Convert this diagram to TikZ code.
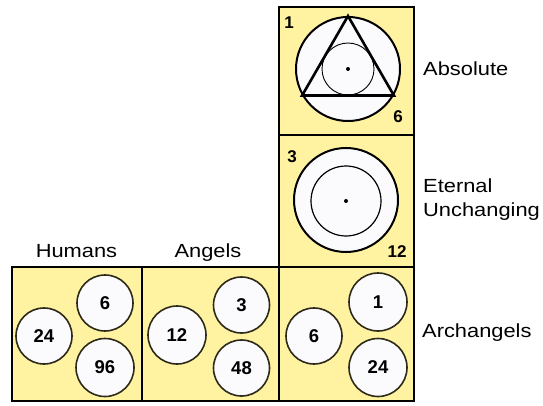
\documentclass[tikz,border=0pt]{standalone}
\usepackage{fontspec}
\setmainfont{Liberation Sans}
\usepackage{graphicx}
\definecolor{cellyel}{RGB}{255,242,160}
\definecolor{circfill}{RGB}{251,251,254}
\definecolor{circline}{RGB}{45,42,25}
\begin{document}
\begin{tikzpicture}[x=1pt,y=-1pt,
  cell/.style={rectangle,draw=black,line width=2.5pt,fill=cellyel,inner sep=0pt},
  numc/.style={circle,draw=circline,line width=1.6pt,fill=circfill,inner sep=0pt,
    font=\fontsize{18.5}{20}\selectfont\bfseries},
  corner/.style={inner sep=0pt,font=\fontsize{17}{19}\selectfont\bfseries},
  lab/.style={inner sep=0pt,font=\fontsize{19}{22}\selectfont}]
\useasboundingbox (0,0) rectangle (543,406);
% cells
\node[cell,minimum width=135pt,minimum height=128pt] (abs) at (346.5,71) {};
\node[cell,minimum width=135pt,minimum height=132pt] (ete) at (346.5,201) {};
\node[cell,minimum width=130pt,minimum height=134pt] (hum) at (77,334) {};
\node[cell,minimum width=137pt,minimum height=134pt] (ang) at (210.5,334) {};
\node[cell,minimum width=135pt,minimum height=134pt] (arc) at (346.5,334) {};
% absolute
\node[circle,draw=black,line width=2pt,fill=circfill,minimum size=104pt,inner sep=0pt] (absout) at (348,69) {};
\node[circle,draw=black,line width=0.9pt,minimum size=52pt,inner sep=0pt] (absin) at (348,69) {};
\draw[line width=2.6pt,line join=miter] (absout.90) -- (absout.210) -- (absout.330) -- cycle;
\fill (absout.center) circle (2pt);
\node[corner] (n1) at (289,23) {1};
\node[corner] (n6) at (398,117) {6};
% eternal
\node[circle,draw=black,line width=2pt,fill=circfill,minimum size=104pt,inner sep=0pt] (eteout) at (346,200) {};
\node[circle,draw=black,line width=1.2pt,minimum size=70pt,inner sep=0pt] (etein) at (346,201) {};
\fill (etein.center) circle (2pt);
\node[corner] (n3) at (292,157) {3};
\node[corner] (n12) at (397,252) {12};
% humans
\node[numc,minimum size=56pt] (h24) at (44,336) {24};
\node[numc,minimum size=56pt] (h6) at (105,303) {6};
\node[numc,minimum size=58pt] (h96) at (105,367.5) {96};
% angels
\node[numc,minimum size=58pt] (a12) at (177,335) {12};
\node[numc,minimum size=56pt] (a3) at (241.5,305) {3};
\node[numc,minimum size=56pt] (a48) at (241.5,368) {48};
% archangels
\node[numc,minimum size=56pt] (r6) at (314,336) {6};
\node[numc,minimum size=58pt] (r1) at (378,302) {1};
\node[numc,minimum size=58pt] (r24) at (378,367.5) {24};
% labels
\node[lab,anchor=base] (lhum) at (76.5,257) {\scalebox{1.15}[1]{Humans}};
\node[lab,anchor=base] (lang) at (208,257) {\scalebox{1.15}[1]{Angels}};
\node[lab,anchor=base west] (labs) at (423,76) {\scalebox{1.15}[1]{Absolute}};
\node[lab,anchor=base west] (lete) at (423,193) {\scalebox{1.15}[1]{Eternal}};
\node[lab,anchor=base west] (lunc) at (423,216) {\scalebox{1.15}[1]{Unchanging}};
\node[lab,anchor=base west] (larc) at (422,337) {\scalebox{1.15}[1]{Archangels}};
\end{tikzpicture}
\end{document}
